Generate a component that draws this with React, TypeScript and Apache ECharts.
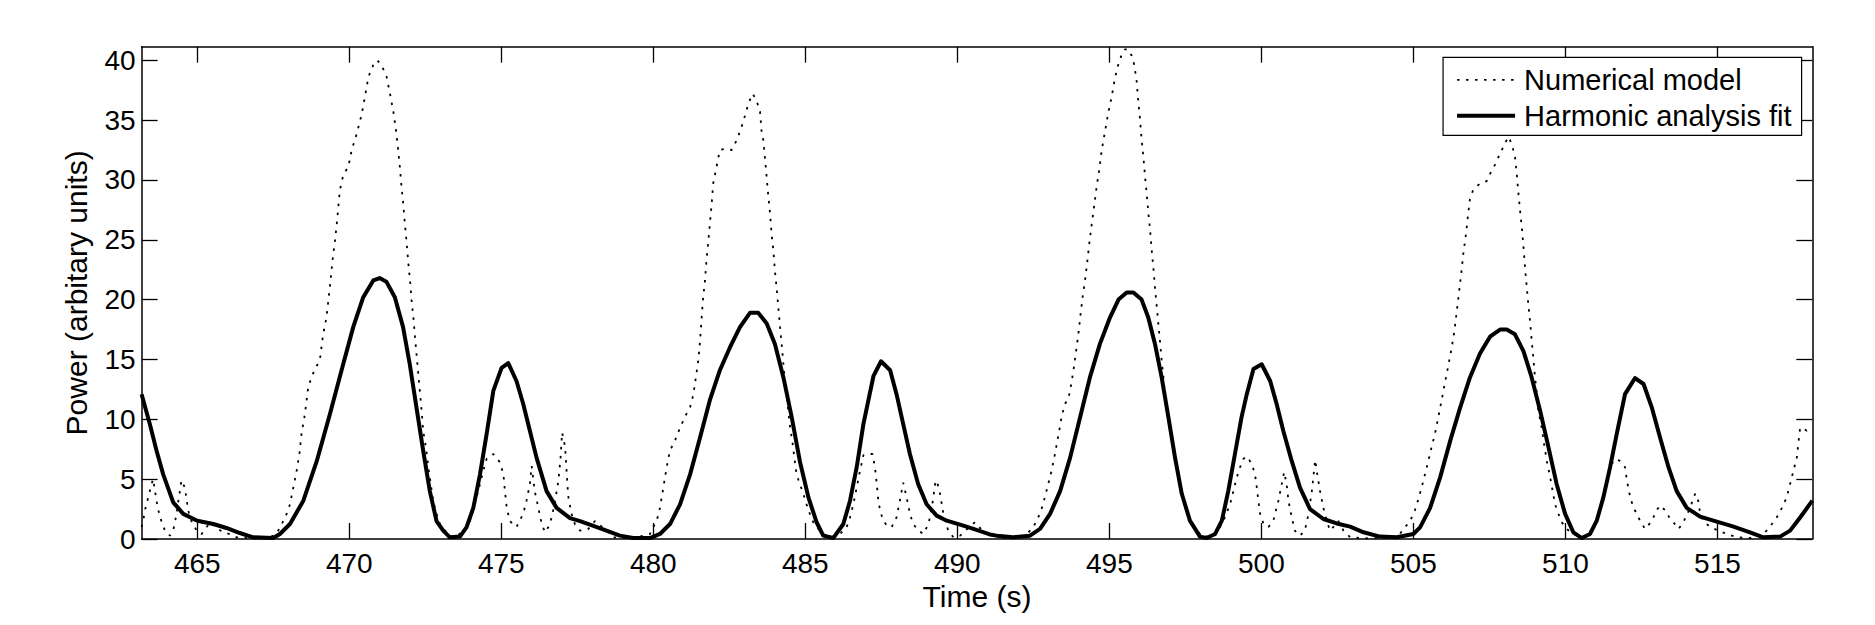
import React, { useEffect, useRef } from "react";
import * as echarts from "echarts";

const FONT = "'Liberation Sans', Arial, Helvetica, sans-serif";

const X_MIN = 463.17;
const X_MAX = 518.12;
const Y_MIN = 0;
const Y_MAX = 41.13;

const xTicks = [465, 470, 475, 480, 485, 490, 495, 500, 505, 510, 515];
const yTicks = [0, 5, 10, 15, 20, 25, 30, 35, 40];

const seriesNames = ["Numerical model", "Harmonic analysis fit"];

// Harmonic analysis fit (solid)
const fitTime = [
  463.17, 463.44, 463.66, 463.88, 464.21, 464.54, 465.0, 465.53, 465.96, 466.4, 466.84, 467.5, 467.72,
  468.05, 468.49, 468.93, 469.36, 469.8, 470.13, 470.46, 470.79, 471.0, 471.22, 471.5, 471.77, 471.99,
  472.21, 472.43, 472.65, 472.87, 473.09, 473.31, 473.64, 473.86, 474.08, 474.3, 474.52, 474.74, 475.01,
  475.23, 475.5, 475.72, 475.94, 476.16, 476.49, 476.82, 477.26, 477.59, 478.03, 478.46, 478.9, 479.34,
  479.89, 480.22, 480.55, 480.88, 481.21, 481.54, 481.86, 482.19, 482.52, 482.85, 483.18, 483.45, 483.73,
  484.0, 484.28, 484.55, 484.82, 485.1, 485.37, 485.59, 485.92, 486.25, 486.47, 486.69, 486.91, 487.24,
  487.49, 487.79, 488.0, 488.22, 488.44, 488.71, 488.99, 489.32, 489.65, 490.09, 490.53, 491.07, 491.29,
  491.84, 492.39, 492.72, 493.05, 493.38, 493.71, 494.04, 494.36, 494.69, 495.02, 495.3, 495.57, 495.79,
  496.06, 496.28, 496.5, 496.72, 496.94, 497.16, 497.38, 497.65, 497.98, 498.2, 498.48, 498.7, 498.91,
  499.13, 499.35, 499.52, 499.74, 500.01, 500.29, 500.5, 500.72, 501.0, 501.27, 501.6, 502.04, 502.48,
  502.92, 503.36, 503.9, 504.45, 505.0, 505.22, 505.55, 505.88, 506.21, 506.54, 506.86, 507.19, 507.52,
  507.85, 508.07, 508.34, 508.62, 508.89, 509.17, 509.44, 509.71, 509.99, 510.26, 510.54, 510.81, 511.03,
  511.25, 511.47, 511.69, 511.96, 512.29, 512.57, 512.84, 513.11, 513.39, 513.66, 513.99, 514.43, 514.98,
  515.53, 516.07, 516.51, 517.06, 517.39, 517.72, 518.12,
];
const fitPower = [
  12.1, 9.6, 7.4, 5.4, 3.06, 2.1, 1.53, 1.25, 0.92, 0.5, 0.14, 0.08, 0.42,
  1.25, 3.2, 6.5, 10.4, 14.6, 17.7, 20.2, 21.6, 21.8, 21.5, 20.2, 17.7, 14.6,
  11.0, 7.4, 4.0, 1.5, 0.7, 0.14, 0.2, 1.0, 2.6, 5.4, 8.8, 12.4, 14.3,
  14.7, 13.2, 11.3, 9.05, 6.8, 4.0, 2.6, 1.75, 1.5, 1.1, 0.7, 0.28, 0.08,
  0.08, 0.42, 1.25, 2.9, 5.4, 8.5, 11.6, 14.1, 16.0, 17.7, 18.9, 18.9, 18.0,
  16.3, 13.5, 10.2, 6.5, 3.5, 1.4, 0.28, 0.08, 1.25, 3.2, 6.0, 9.6, 13.6,
  14.85, 14.1, 12.1, 9.6, 7.1, 4.6, 2.9, 1.95, 1.53, 1.2, 0.84, 0.38, 0.28,
  0.14, 0.28, 0.84, 2.1, 4.0, 6.8, 10.2, 13.5, 16.3, 18.5, 20.0, 20.6, 20.6,
  20.0, 18.5, 16.3, 13.5, 10.2, 6.8, 3.8, 1.53, 0.2, 0.08, 0.42, 1.53, 4.0,
  7.1, 10.2, 12.1, 14.2, 14.6, 13.2, 11.3, 9.05, 6.5, 4.3, 2.5, 1.67, 1.3,
  1.03, 0.56, 0.2, 0.14, 0.42, 0.97, 2.6, 5.15, 8.2, 11.0, 13.5, 15.5, 16.9,
  17.5, 17.5, 17.1, 15.7, 13.5, 10.7, 7.7, 4.6, 2.1, 0.56, 0.08, 0.42, 1.53,
  3.5, 6.0, 8.8, 12.1, 13.45, 12.95, 11.0, 8.5, 6.0, 4.0, 2.6, 1.87, 1.45,
  1.03, 0.56, 0.14, 0.2, 0.7, 1.8, 3.2,
];

// Numerical model (dotted)
const modelTime = [
  463.17, 463.22, 463.28, 463.36, 463.44, 463.5, 463.55, 463.6, 463.66, 463.72, 463.83, 463.94, 464.1,
  464.21, 464.32, 464.38, 464.43, 464.48, 464.59, 464.65, 464.7, 464.81, 464.98, 465.14, 465.31, 465.44,
  465.58, 465.86, 466.07, 466.29, 466.8, 467.3, 467.6, 467.83, 467.94, 468.05, 468.16, 468.27, 468.36,
  468.43, 468.54, 468.65, 468.76, 468.87, 469.03, 469.14, 469.25, 469.36, 469.45, 469.53, 469.6, 469.67,
  469.73, 469.82, 469.97, 470.08, 470.24, 470.41, 470.52, 470.63, 470.79, 470.92, 471.06, 471.23, 471.34,
  471.45, 471.54, 471.61, 471.67, 471.72, 471.78, 471.83, 471.89, 471.94, 472.0, 472.05, 472.11, 472.16,
  472.21, 472.27, 472.32, 472.38, 472.43, 472.52, 472.6, 472.68, 472.76, 472.87, 472.98, 473.15, 473.42,
  473.8, 473.97, 474.08, 474.19, 474.3, 474.41, 474.52, 474.74, 474.96, 475.07, 475.12, 475.18, 475.28,
  475.5, 475.72, 475.83, 475.94, 476.0, 476.1, 476.22, 476.33, 476.44, 476.55, 476.66, 476.77, 476.88,
  476.95, 477.0, 477.1, 477.15, 477.2, 477.31, 477.42, 477.59, 477.85, 478.08, 478.46, 478.68, 479.3,
  479.89, 480.0, 480.11, 480.22, 480.33, 480.44, 480.55, 480.71, 480.88, 481.04, 481.21, 481.32, 481.4,
  481.48, 481.54, 481.59, 481.64, 481.7, 481.75, 481.81, 481.86, 481.92, 481.97, 482.08, 482.19, 482.36,
  482.58, 482.74, 482.9, 483.02, 483.13, 483.27, 483.4, 483.51, 483.56, 483.62, 483.67, 483.73, 483.78,
  483.84, 483.89, 483.95, 484.0, 484.06, 484.11, 484.17, 484.22, 484.28, 484.33, 484.39, 484.44, 484.5,
  484.57, 484.64, 484.71, 484.82, 484.93, 485.04, 485.15, 485.26, 485.43, 485.59, 485.81, 486.14, 486.36,
  486.47, 486.58, 486.69, 486.8, 486.91, 487.07, 487.21, 487.29, 487.35, 487.4, 487.46, 487.54, 487.68,
  487.84, 488.0, 488.11, 488.22, 488.33, 488.44, 488.55, 488.72, 488.88, 489.05, 489.16, 489.27, 489.32,
  489.43, 489.54, 489.7, 489.87, 490.09, 490.35, 490.58, 490.86, 491.02, 491.4, 491.9, 492.28, 492.5,
  492.66, 492.77, 492.88, 492.99, 493.1, 493.21, 493.32, 493.43, 493.54, 493.65, 493.73, 493.82, 493.9,
  493.98, 494.04, 494.12, 494.2, 494.28, 494.34, 494.42, 494.51, 494.58, 494.67, 494.75, 494.86, 494.97,
  495.08, 495.19, 495.3, 495.41, 495.51, 495.62, 495.73, 495.82, 495.9, 495.95, 496.01, 496.06, 496.12,
  496.17, 496.23, 496.28, 496.34, 496.39, 496.45, 496.5, 496.56, 496.61, 496.67, 496.72, 496.78, 496.83,
  496.89, 497.0, 497.08, 497.16, 497.27, 497.38, 497.49, 497.6, 497.76, 497.93, 498.09, 498.42, 498.64,
  498.8, 498.97, 499.08, 499.19, 499.3, 499.41, 499.52, 499.68, 499.79, 499.85, 499.9, 499.96, 500.07,
  500.23, 500.39, 500.56, 500.67, 500.75, 500.83, 500.89, 501.0, 501.1, 501.27, 501.43, 501.55, 501.66,
  501.77, 501.84, 501.93, 502.04, 502.15, 502.26, 502.4, 502.53, 502.7, 502.92, 503.5, 504.2, 504.51,
  504.7, 504.89, 505.05, 505.16, 505.27, 505.38, 505.49, 505.6, 505.71, 505.82, 505.93, 506.04, 506.15,
  506.26, 506.35, 506.43, 506.5, 506.57, 506.64, 506.72, 506.79, 506.86, 506.97, 507.19, 507.41, 507.52,
  507.69, 507.85, 508.02, 508.13, 508.23, 508.34, 508.4, 508.45, 508.51, 508.57, 508.62, 508.67, 508.73,
  508.78, 508.84, 508.89, 508.95, 509.0, 509.06, 509.11, 509.22, 509.3, 509.39, 509.5, 509.58, 509.66,
  509.77, 509.88, 510.04, 510.26, 510.54, 510.76, 510.92, 511.09, 511.2, 511.3, 511.41, 511.52, 511.69,
  511.85, 511.96, 512.02, 512.13, 512.24, 512.35, 512.46, 512.62, 512.84, 513.0, 513.11, 513.28, 513.44,
  513.55, 513.72, 513.88, 514.1, 514.27, 514.38, 514.43, 514.54, 514.76, 515.03, 515.31, 515.64, 516.07,
  516.4, 516.62, 516.79, 516.95, 517.12, 517.28, 517.39, 517.5, 517.61, 517.67, 517.72, 517.83, 517.94,
  518.12,
];
const modelPower = [
  1.0, 1.5, 2.4, 3.2, 4.0, 4.6, 5.0, 4.2, 3.2, 2.4, 1.4, 0.7, 0.28,
  0.7, 2.1, 3.2, 4.0, 4.9, 4.3, 3.3, 2.4, 1.5, 0.7, 0.4, 1.0, 1.4,
  1.0, 0.56, 0.4, 0.14, 0.05, 0.05, 0.4, 1.5, 2.1, 2.9, 4.3, 5.7, 7.1,
  8.8, 10.4, 12.7, 13.5, 14.2, 14.9, 17.1, 18.5, 21.0, 23.3, 24.9, 26.6, 28.6,
  29.7, 30.5, 31.1, 32.5, 33.8, 35.5, 37.0, 38.6, 39.6, 40.0, 39.6, 38.6, 37.2,
  35.7, 34.1, 32.5, 30.9, 29.4, 27.9, 26.3, 24.7, 23.1, 21.6, 19.9, 18.5, 16.9,
  15.5, 13.8, 12.4, 10.7, 9.05, 7.7, 6.0, 4.6, 3.2, 2.1, 1.25, 0.7, 0.1,
  0.7, 1.5, 2.4, 3.5, 4.6, 5.7, 6.7, 7.1, 6.4, 5.4, 4.0, 2.6, 1.5,
  1.0, 2.1, 3.2, 4.6, 6.1, 4.0, 2.6, 1.25, 0.56, 1.0, 1.8, 3.2, 4.9,
  6.8, 8.9, 7.7, 5.6, 3.6, 2.1, 1.25, 0.7, 0.8, 1.5, 0.7, 0.14, 0.05,
  0.4, 1.0, 1.5, 2.6, 4.3, 6.0, 7.4, 8.2, 9.3, 10.2, 11.0, 12.1, 13.5,
  14.9, 16.6, 18.5, 20.2, 21.6, 23.3, 24.9, 26.3, 28.0, 29.7, 31.1, 32.5, 32.6,
  32.5, 33.3, 34.4, 35.4, 36.4, 37.2, 36.6, 35.7, 34.1, 33.3, 31.9, 30.2, 28.7,
  27.2, 25.5, 24.1, 22.4, 20.9, 19.4, 17.7, 16.3, 14.6, 13.2, 11.8, 10.7, 9.3,
  8.2, 6.8, 5.4, 4.6, 3.8, 2.9, 2.1, 1.4, 0.84, 0.42, 0.14, 0.42, 1.0,
  1.8, 2.9, 4.3, 5.7, 7.0, 7.1, 7.1, 6.0, 4.6, 3.2, 2.4, 1.7, 1.1,
  1.0, 1.8, 3.2, 4.7, 3.5, 2.1, 1.25, 0.7, 0.42, 1.25, 2.6, 4.6, 4.9,
  3.8, 2.1, 0.7, 0.14, 0.28, 0.9, 1.4, 0.6, 0.42, 0.1, 0.05, 0.4, 1.0,
  1.8, 2.5, 3.5, 4.6, 5.7, 7.1, 8.6, 10.2, 11.3, 11.7, 12.7, 14.1, 15.6,
  17.1, 18.5, 20.2, 21.6, 23.3, 24.7, 26.3, 28.0, 29.4, 30.9, 32.5, 34.1, 35.7,
  37.0, 38.6, 39.7, 40.5, 40.9, 40.9, 40.4, 39.6, 38.2, 36.6, 35.0, 33.4, 31.9,
  30.4, 28.8, 27.3, 25.8, 24.2, 22.6, 21.0, 19.4, 18.0, 16.4, 14.9, 13.5, 12.1,
  10.7, 9.3, 7.9, 6.5, 5.15, 4.0, 2.8, 1.8, 1.1, 0.56, 0.14, 0.4, 1.0,
  1.8, 2.9, 4.0, 5.15, 6.0, 6.7, 6.9, 6.3, 5.4, 4.3, 3.2, 2.1, 1.25,
  1.0, 1.5, 3.2, 4.6, 5.6, 4.6, 3.2, 1.8, 0.7, 0.28, 0.7, 2.1, 4.0,
  6.6, 5.4, 4.0, 2.6, 1.5, 0.7, 1.1, 1.5, 0.7, 0.14, 0.05, 0.1, 0.28,
  0.9, 1.5, 2.4, 3.3, 4.3, 5.4, 6.5, 7.7, 8.8, 10.2, 11.6, 13.1, 14.5,
  16.0, 17.4, 19.1, 20.6, 22.1, 23.8, 25.3, 26.9, 28.4, 29.2, 29.7, 29.9, 30.5,
  31.3, 32.2, 33.1, 33.6, 33.0, 32.0, 30.5, 29.0, 27.4, 25.9, 24.4, 22.7, 21.0,
  19.6, 18.1, 16.6, 15.0, 13.5, 12.1, 10.7, 9.3, 7.9, 6.5, 5.15, 4.0, 2.9,
  2.1, 1.4, 0.84, 0.42, 0.14, 0.42, 1.0, 1.8, 2.9, 4.0, 5.15, 6.3, 6.7,
  6.4, 6.0, 4.9, 3.5, 2.6, 2.1, 1.5, 0.84, 1.5, 2.4, 2.8, 2.4, 1.7,
  1.4, 0.84, 1.4, 2.6, 3.8, 3.1, 2.1, 1.5, 1.0, 0.7, 0.42, 0.14, 0.08,
  0.28, 0.7, 1.25, 1.8, 2.6, 3.5, 4.6, 5.7, 6.8, 8.2, 9.3, 9.2, 9.05,
  9.3,
];

function pairs(xs: number[], ys: number[]) {
  return xs.map((x, i) => [x, ys[i]]);
}

const tickStyle = { color: "#000", width: 1.3 };
const lineStyleAxis = { color: "#000", width: 1.5 };
const modelLine = { color: "#000", width: 1.8, type: [2.5, 6.5] };
const fitLine = { color: "#000", width: 4, join: "round" };

function makeOption() {
  const commonX = {
    type: "value",
    min: X_MIN,
    max: X_MAX,
    splitLine: { show: false },
    axisLine: { show: true, onZero: false, lineStyle: lineStyleAxis },
    axisTick: { show: true, inside: true, length: 16, customValues: xTicks, lineStyle: tickStyle },
    minorTick: { show: false },
  };
  const commonY = {
    type: "value",
    min: Y_MIN,
    max: Y_MAX,
    splitLine: { show: false },
    axisLine: { show: true, onZero: false, lineStyle: lineStyleAxis },
    axisTick: { show: true, inside: true, length: 16, customValues: yTicks, lineStyle: tickStyle },
    minorTick: { show: false },
  };
  return {
    animation: false,
    backgroundColor: "#fff",
    textStyle: { fontFamily: FONT, color: "#000" },
    grid: { left: 141.6, right: 62.7, top: 46.7, bottom: 86, containLabel: false },
    legend: {
      data: [
        { name: seriesNames[0], lineStyle: { ...modelLine } },
        { name: seriesNames[1], lineStyle: { ...fitLine } },
      ],
      orient: "vertical",
      right: 73.4,
      top: 57.3,
      backgroundColor: "#fff",
      borderColor: "#000",
      borderWidth: 1.2,
      borderRadius: 0,
      padding: [8, 10, 5, 12],
      itemGap: 7,
      itemWidth: 58,
      itemHeight: 14,
      itemStyle: { opacity: 0, color: "transparent", borderWidth: 0 },
      textStyle: { fontFamily: FONT, fontSize: 29, color: "#000", padding: [0, 0, 0, 4] },
      selectedMode: false,
    },
    xAxis: [
      {
        ...commonX,
        position: "bottom",
        axisLabel: {
          show: true,
          customValues: xTicks,
          fontFamily: FONT,
          fontSize: 28,
          color: "#000",
          margin: 10,
        },
        name: "Time (s)",
        nameLocation: "middle",
        nameGap: 39,
        nameTextStyle: { fontFamily: FONT, fontSize: 30, color: "#000" },
      },
      {
        ...commonX,
        position: "top",
        axisLabel: { show: false },
      },
    ],
    yAxis: [
      {
        ...commonY,
        position: "left",
        axisLabel: {
          show: true,
          customValues: yTicks,
          fontFamily: FONT,
          fontSize: 28,
          color: "#000",
          margin: 6,
        },
        name: "Power (arbitary units)",
        nameLocation: "middle",
        nameGap: 50,
        nameTextStyle: { fontFamily: FONT, fontSize: 30, color: "#000" },
      },
      {
        ...commonY,
        position: "right",
        axisLabel: { show: false },
      },
    ],
    series: [
      {
        name: seriesNames[0],
        type: "line",
        xAxisIndex: 0,
        yAxisIndex: 0,
        data: pairs(modelTime, modelPower),
        showSymbol: false,
        symbol: "none",
        clip: true,
        lineStyle: modelLine,
        itemStyle: { color: "#000" },
        z: 2,
      },
      {
        name: seriesNames[1],
        type: "line",
        xAxisIndex: 0,
        yAxisIndex: 0,
        data: pairs(fitTime, fitPower),
        showSymbol: false,
        symbol: "none",
        clip: true,
        lineStyle: fitLine,
        itemStyle: { color: "#000" },
        z: 3,
      },
    ],
  };
}

export default function App() {
  const ref = useRef<HTMLDivElement>(null);
  useEffect(() => {
    if (!ref.current) return;
    const chart = echarts.init(ref.current, null, { renderer: "svg" });
    chart.setOption(makeOption() as any);
    return () => chart.dispose();
  }, []);
  return (
    <div
      ref={ref}
      style={{ position: "fixed", left: 0, top: 0, width: 1875, height: 625, background: "#fff" }}
    />
  );
}
